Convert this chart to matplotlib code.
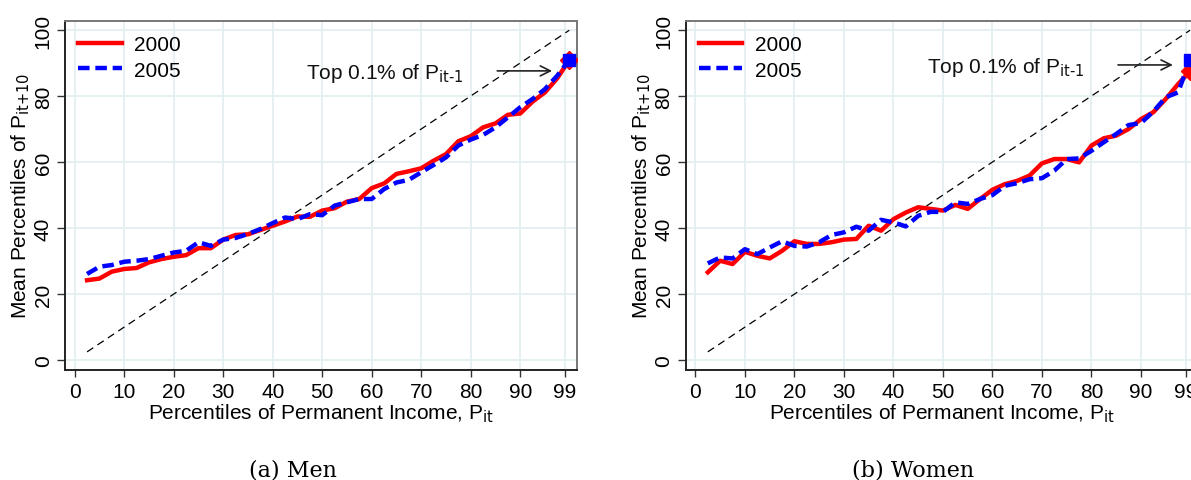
import numpy as np
import matplotlib
matplotlib.use("Agg")
import matplotlib.pyplot as plt

plt.rcParams['font.family'] = ['Liberation Sans', 'DejaVu Sans']
plt.rcParams['mathtext.default'] = 'regular'

# percentile bins (2.5 ... 97.5) plus the top 0.1%
pct = [2.5, 5, 7.5, 10, 12.5, 15, 17.5, 20, 22.5, 25, 27.5, 30, 32.5, 35, 37.5,
       40, 42.5, 45, 47.5, 50, 52.5, 55, 57.5, 60, 62.5, 65, 67.5, 70, 72.5, 75,
       77.5, 80, 82.5, 85, 87.5, 90, 92.5, 95, 97.5, 99.9]

men_2000 = [24.2, 24.7, 26.8, 27.6, 27.9, 29.6, 30.6, 31.3, 31.8, 33.9, 33.9, 36.5,
            37.9, 38.1, 39.4, 40.7, 42.0, 43.5, 43.4, 45.3, 46.0, 48.0, 48.8, 52.1,
            53.5, 56.4, 57.2, 58.1, 60.4, 62.4, 66.3, 67.8, 70.5, 71.7, 74.3, 74.7,
            78.3, 81.1, 85.4, 90.9]
men_2005 = [26.1, 28.3, 28.8, 29.8, 30.1, 30.6, 31.6, 32.6, 33.1, 35.7, 34.6, 36.5,
            37.0, 38.2, 39.7, 41.5, 43.2, 42.7, 44.2, 43.9, 46.8, 47.8, 48.8, 48.8,
            51.8, 53.8, 54.6, 56.9, 59.1, 61.4, 65.0, 66.8, 68.2, 70.5, 73.5, 76.6,
            79.1, 82.1, 86.2, 90.9]
women_2000 = [26.6, 30.1, 29.1, 32.8, 31.6, 30.8, 33.1, 36.0, 35.2, 35.2, 35.7, 36.5,
              36.7, 40.7, 39.2, 42.7, 44.7, 46.3, 45.8, 45.3, 47.0, 45.8, 48.8, 51.6,
              53.3, 54.3, 55.9, 59.6, 60.9, 60.9, 59.9, 65.0, 67.2, 68.0, 70.0, 73.0,
              75.1, 79.1, 83.6, 87.5]
women_2005 = [29.3, 31.1, 30.8, 33.6, 32.1, 34.1, 36.0, 34.6, 34.4, 35.7, 37.9, 38.7,
              40.4, 39.2, 42.5, 41.7, 40.5, 43.7, 44.9, 44.9, 47.8, 47.3, 48.8, 50.0,
              52.8, 53.6, 54.8, 55.1, 57.4, 60.9, 61.1, 63.4, 66.0, 68.5, 71.2, 71.8,
              75.3, 79.6, 81.1, 91.0]

xticks = [0, 10, 20, 30, 40, 50, 60, 70, 80, 90, 99]
yticks = [0, 20, 40, 60, 80, 100]

grid_c = '#E4EEF0'
fs = 15


def draw_panel(ax, y2000, y2005, arrow_y, text_y):
    ax.set_xlim(-1.9, 101.4)
    ax.set_ylim(-2.9, 102.7)
    for xv in xticks:
        ax.axvline(xv, color=grid_c, lw=1.3, zorder=0)
    for yv in yticks:
        ax.axhline(yv, color=grid_c, lw=1.3, zorder=0)
    # 45 degree line
    ax.plot([2.5, 99.9], [2.5, 99.9], color='black', lw=0.9, dashes=(6, 4), zorder=2)
    l1, = ax.plot(pct, y2000, color='#FF0000', lw=3.2, zorder=3, label='2000')
    l2, = ax.plot(pct, y2005, color='#0000FF', lw=3.2, dashes=(2.6, 1.3), zorder=4, label='2005')
    ax.plot(pct[-1], y2000[-1], marker='D', ms=9, color='#FF0000', zorder=5)
    ax.plot(pct[-1], y2005[-1], marker='s', ms=8.5, color='#0000FF', zorder=6)

    ax.annotate('', xy=(97.0, arrow_y), xytext=(84.8, arrow_y),
                arrowprops=dict(arrowstyle='->', color='#222222', lw=1.2,
                                mutation_scale=18))
    ax.text(46.7, text_y, r'Top 0.1% of P$_{\text{it-1}}$', fontsize=fs, va='baseline',
            ha='left', color='#111111')

    ax.set_xticks(xticks)
    ax.set_yticks(yticks)
    ax.tick_params(axis='x', length=5, width=1, pad=3.5, labelsize=fs, color='#333333')
    ax.tick_params(axis='y', length=6, width=1, pad=3, labelsize=fs, color='#333333',
                   labelrotation=90)
    for lab in ax.get_yticklabels():
        lab.set_va('center')
    for s in ['left', 'bottom']:
        ax.spines[s].set_color('#222222')
        ax.spines[s].set_linewidth(1.4)
    for s in ['top', 'right']:
        ax.spines[s].set_color('#777777')
        ax.spines[s].set_linewidth(1.4)

    ax.set_xlabel(r'Percentiles of Permanent Income, P$_{\text{it}}$', fontsize=fs, labelpad=1)
    ax.set_ylabel(r'Mean Percentiles of P$_{\text{it+10}}$', fontsize=fs, labelpad=1)
    ax.legend(handles=[l1, l2], loc='upper left', frameon=False, fontsize=fs,
              handlelength=2.1, handletextpad=0.6, labelspacing=0.3,
              borderaxespad=0.2, bbox_to_anchor=(0.0, 0.995))


fig = plt.figure(figsize=(11.91, 4.81), dpi=100)
ax1 = fig.add_axes([0.0548, 0.2293, 0.4294, 0.7249])
ax2 = fig.add_axes([0.5760, 0.2293, 0.4294, 0.7249])

draw_panel(ax1, men_2000, men_2005, 87.6, 85.3)
draw_panel(ax2, women_2000, women_2005, 89.4, 87.3)

fig.text(0.246, 0.010, '(a) Men', fontsize=16, family='DejaVu Serif', ha='center', va='baseline')
fig.text(0.767, 0.010, '(b) Women', fontsize=16, family='DejaVu Serif', ha='center', va='baseline')

fig.savefig('out.png', dpi=100)
